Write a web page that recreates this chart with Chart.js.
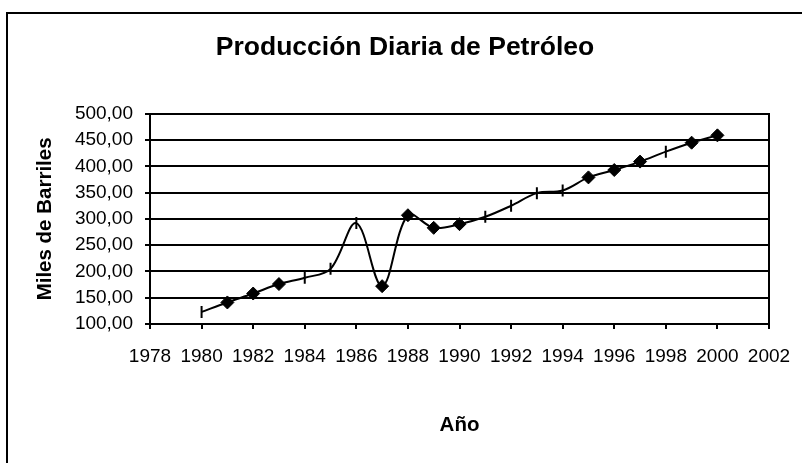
<!DOCTYPE html>
<html>
<head>
<meta charset="utf-8">
<script src="https://cdn.jsdelivr.net/npm/chart.js@4/dist/chart.umd.min.js"></script>
<style>
  html, body { margin: 0; padding: 0; background: #fff; }
  #marco { position: absolute; left: 6px; top: 12px; width: 900px; height: 600px;
           border-left: 2px solid #000; border-top: 2px solid #000; }
  #contenedor { position: absolute; left: 0; top: 0; width: 802px; height: 463px; }
</style>
</head>
<body>
<div id="marco"></div>
<div id="contenedor"><canvas id="grafico"></canvas></div>
<script>
// Datos
const anios = [1980, 1981, 1982, 1983, 1984, 1985, 1986, 1987, 1988, 1989, 1990,
               1991, 1992, 1993, 1994, 1995, 1996, 1997, 1998, 1999, 2000];
const produccion = [123, 141, 158, 176, 188, 205, 292, 172, 307, 283, 290,
                    304, 325, 349, 354, 379, 393, 409, 428, 445, 459];
// Años que llevan marcador de rombo (el resto lleva una rayita vertical)
const aniosRombo = [1981, 1982, 1983, 1987, 1988, 1989, 1990, 1995, 1996, 1997, 1999, 2000];

const titulo = "Producción Diaria de Petróleo";
const tituloX = "Año";
const tituloY = "Miles de Barriles";

const fuente = "'Liberation Sans', Arial, sans-serif";

function esRombo(ctx) {
  return aniosRombo.includes(anios[ctx.dataIndex]);
}

new Chart(document.getElementById("grafico"), {
  type: "line",
  data: {
    datasets: [{
      data: anios.map((a, i) => ({ x: a, y: produccion[i] })),
      borderColor: "#000",
      borderWidth: 2,
      tension: 0.35,
      fill: false,
      pointStyle: (ctx) => esRombo(ctx) ? "rectRot" : "line",
      pointRotation: (ctx) => esRombo(ctx) ? 0 : 90,
      pointRadius: (ctx) => esRombo(ctx) ? 6.5 : 6,
      pointBackgroundColor: "#000",
      pointBorderColor: "#000",
      pointBorderWidth: (ctx) => esRombo(ctx) ? 1 : 2
    }]
  },
  options: {
    responsive: true,
    maintainAspectRatio: false,
    animation: false,
    layout: { padding: { left: 8, right: 0, top: 0, bottom: 0 } },
    plugins: {
      legend: { display: false },
      tooltip: { enabled: false },
      title: {
        display: true,
        text: titulo,
        color: "#000",
        font: { family: fuente, size: 26.5, weight: "bold" },
        padding: { top: 32, bottom: 50 }
      }
    },
    scales: {
      x: {
        type: "linear",
        min: 1978,
        max: 2002,
        afterFit: (s) => {
          s.height = 139;
          // que el relleno lateral de las etiquetas no encoja el área
          s.paddingLeft = 0;
          s.paddingRight = 0;
        },
        ticks: {
          stepSize: 2,
          color: "#000",
          padding: 16,
          maxRotation: 0,
          font: { family: fuente, size: 19 },
          callback: (v) => String(v)
        },
        grid: { drawOnChartArea: false, drawTicks: true, tickLength: 5, color: "#000", lineWidth: 2 },
        border: { color: "#000", width: 2 },
        title: {
          display: true,
          text: tituloX,
          color: "#000",
          font: { family: fuente, size: 20.5, weight: "bold" },
          padding: { top: 0, bottom: 25 }
        }
      },
      y: {
        min: 100,
        max: 500,
        afterFit: (s) => { s.width = 142; },
        ticks: {
          stepSize: 50,
          color: "#000",
          padding: 12,
          font: { family: fuente, size: 19 },
          callback: (v) => v.toFixed(2).replace(".", ",")
        },
        grid: { color: "#000", lineWidth: 2, tickLength: 5 },
        border: { color: "#000", width: 2 },
        title: {
          display: true,
          text: tituloY,
          color: "#000",
          font: { family: fuente, size: 20.5, weight: "bold" },
          padding: { top: 25, bottom: 0 }
        }
      },
      // eje derecho solo para el borde del área de trazado
      yDer: {
        position: "right",
        min: 100,
        max: 500,
        afterFit: (s) => { s.width = 33; },
        ticks: { display: false },
        grid: { drawOnChartArea: false, drawTicks: false },
        border: { color: "#000", width: 2 }
      }
    }
  }
});
</script>
</body>
</html>
